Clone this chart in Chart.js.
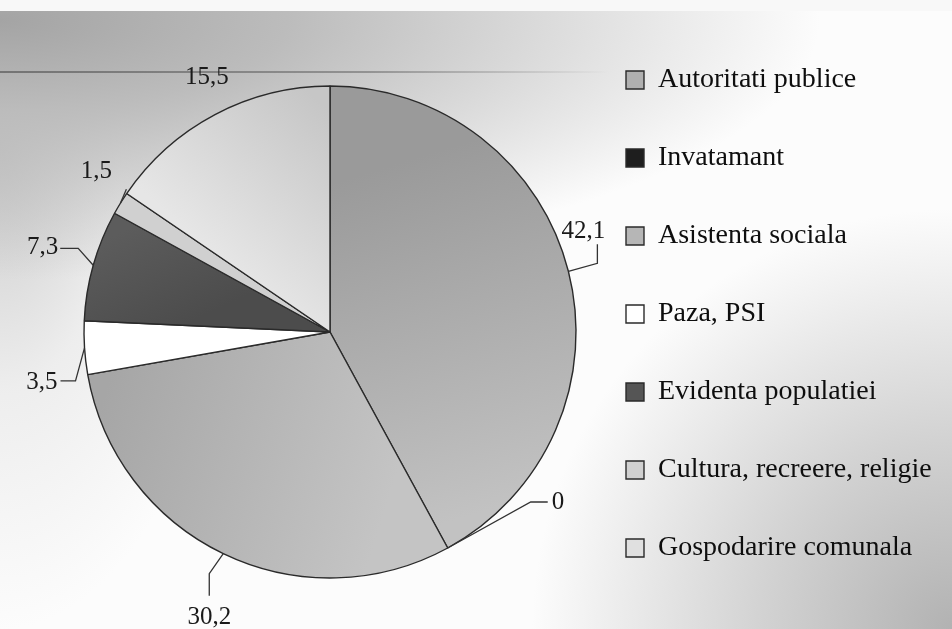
<!DOCTYPE html>
<html><head><meta charset="utf-8">
<script src="https://cdn.jsdelivr.net/npm/chart.js@4.4.0/dist/chart.umd.min.js"></script>
<style>
html,body{margin:0;padding:0;}
body{width:952px;height:629px;overflow:hidden;position:relative;background:#fcfcfc;}
#bg{position:absolute;left:0;top:0;width:952px;height:629px;
 background:
  linear-gradient(to bottom, #f8f8f8 0, #f8f8f8 11px, rgba(255,255,255,0) 11px),
  radial-gradient(ellipse 820px 260px at 0px 20px, #a4a4a4 0%, #bcbcbc 35%, rgba(252,252,252,0) 100%),
  radial-gradient(ellipse 240px 480px at 0px 150px, rgba(190,190,190,0.8) 0%, rgba(220,220,220,0.45) 50%, rgba(252,252,252,0) 100%),
  radial-gradient(ellipse 420px 420px at 952px 629px, #b2b2b2 0%, #d2d2d2 45%, rgba(252,252,252,0) 100%),
  #fcfcfc;}
#line{position:absolute;left:0;top:71px;width:610px;height:2px;
 background:linear-gradient(to right, rgba(95,95,95,0.75), rgba(110,110,110,0.6) 60%, rgba(140,140,140,0));}
canvas{position:absolute;left:0;top:0;}
</style></head>
<body><div id="bg"></div><div id="line"></div><canvas id="c" width="952" height="629"></canvas>
<script>
const categories = ['Autoritati publice','Invatamant','Asistenta sociala','Paza, PSI','Evidenta populatiei','Cultura, recreere, religie','Gospodarire comunala'];
const values = [42.1, 0, 30.2, 3.5, 7.3, 1.5, 15.5];
const valueLabels = ['42,1','0','30,2','3,5','7,3','1,5','15,5'];
const sliceColors = ['#b0b0b0','#1e1e1e','#b6b6b6','#ffffff','#555555','#d0d0d0','#e0e0e0'];

// shading of the scanned slices: [colour at start edge, colour at end edge]
const sliceShades = [
  ['#9a9a9a','#c2c2c2'],
  null,
  ['#c4c4c4','#a6a6a6'],
  null,
  ['#4c4c4c','#5c5c5c'],
  null,
  ['#e6e6e6','#c6c6c6']
];

// label leader layout, relative to the point on the arc edge at slice mid-angle
const labelLayout = [
  {pts:[[29,-8],[29,-27]], text:[15,-40], align:'center'},
  {pts:[[83,-46],[100,-46]], text:[104,-46], align:'left'},
  {pts:[[-14,20],[-14,42]], text:[-14,64], align:'center'},
  {pts:[[-9,33],[-24,33]], text:[-27,35], align:'right'},
  {pts:[[-15,-17],[-33,-17]], text:[-35,-18], align:'right'},
  {pts:[[6,-14]], text:[-24,-32], align:'center'},
  {pts:[], text:[-8,-37], align:'center'}
];

const FONT_FAMILY = '"Liberation Serif", "Times New Roman", serif';
const legendFontSize = 28, legendStep = 78, boxW = 18;
const legendPad = legendStep - legendFontSize;
const legendBoxX = 626;
const pieCenterX = 330, pieCenterY = 332, pieRadius = 246, firstItemY = 80;

const mctx = document.createElement('canvas').getContext('2d');
mctx.font = legendFontSize + 'px ' + FONT_FAMILY;
let maxW = 0;
categories.forEach(t => { maxW = Math.max(maxW, mctx.measureText(t).width); });
const legendWidth = legendPad + boxW + legendFontSize/2 + maxW + 10;
const legendLeft = legendBoxX - legendPad;
const padRight = Math.max(952 - legendLeft - legendWidth, 0);
const padLeft = 2*pieCenterX - legendLeft;
const padTop = firstItemY - legendFontSize/2 - legendPad;

const centerPlugin = {
  id: 'pieCenter',
  afterLayout(chart) {
    const a = chart.chartArea;
    const dy = pieCenterY - (a.top + a.bottom) / 2;
    a.top += dy; a.bottom += dy;
  }
};

const labelPlugin = {
  id: 'valueLabels',
  afterDatasetsDraw(chart) {
    const ctx = chart.ctx;
    const arcs = chart.getDatasetMeta(0).data;
    ctx.save();
    ctx.font = '25px ' + FONT_FAMILY;
    ctx.fillStyle = '#1a1a1a';
    ctx.strokeStyle = '#333';
    ctx.lineWidth = 1.3;
    ctx.textBaseline = 'middle';
    arcs.forEach((arc, i) => {
      const p = arc.getProps(['x','y','startAngle','endAngle','outerRadius'], true);
      const mid = (p.startAngle + p.endAngle) / 2;
      const ex = p.x + Math.cos(mid) * p.outerRadius;
      const ey = p.y + Math.sin(mid) * p.outerRadius;
      const L = labelLayout[i];
      if (L.pts.length) {
        ctx.beginPath();
        ctx.moveTo(ex, ey);
        L.pts.forEach(q => ctx.lineTo(ex + q[0], ey + q[1]));
        ctx.stroke();
      }
      ctx.textAlign = L.align;
      ctx.fillText(valueLabels[i], ex + L.text[0], ey + L.text[1]);
    });
    ctx.restore();
  }
};

function sliceFill(context) {
  const i = context.dataIndex;
  const shade = sliceShades[i];
  const area = context.chart.chartArea;
  if (!shade || !area) return sliceColors[i];
  const ds = context.chart.data.datasets[0].data;
  const total = ds.reduce((s, v) => s + v, 0);
  let cum = 0;
  for (let k = 0; k < i; k++) cum += ds[k];
  const a0 = -Math.PI/2 + 2*Math.PI*cum/total;
  const a1 = a0 + 2*Math.PI*ds[i]/total;
  const cx = (area.left + area.right)/2, cy = (area.top + area.bottom)/2;
  const r = pieRadius;
  const x0 = cx + Math.cos(a0) * r * 0.6, y0 = cy + Math.sin(a0) * r * 0.6;
  const x1 = cx + Math.cos(a1) * r * 0.9, y1 = cy + Math.sin(a1) * r * 0.9;
  const g = context.chart.ctx.createLinearGradient(x0, y0, x1, y1);
  g.addColorStop(0, shade[0]);
  g.addColorStop(1, shade[1]);
  return g;
}

new Chart(document.getElementById('c'), {
  type: 'pie',
  data: {
    labels: categories,
    datasets: [{
      data: values,
      backgroundColor: sliceFill,
      borderColor: '#2a2a2a',
      borderWidth: 1.4,
      radius: pieRadius
    }]
  },
  options: {
    responsive: false,
    animation: false,
    layout: { padding: { left: padLeft, right: padRight, top: padTop, bottom: 0 } },
    plugins: {
      tooltip: { enabled: false },
      legend: {
        position: 'right',
        align: 'start',
        labels: {
          font: { family: FONT_FAMILY, size: legendFontSize },
          color: '#0e0e0e',
          boxWidth: boxW,
          boxHeight: boxW,
          padding: legendPad,
          generateLabels(chart) {
            const items = Chart.overrides.pie.plugins.legend.labels.generateLabels(chart);
            items.forEach((it, i) => { it.fillStyle = sliceColors[i]; it.strokeStyle = '#2a2a2a'; it.lineWidth = 1.4; });
            return items;
          }
        }
      }
    }
  },
  plugins: [centerPlugin, labelPlugin]
});
</script>
</body></html>
